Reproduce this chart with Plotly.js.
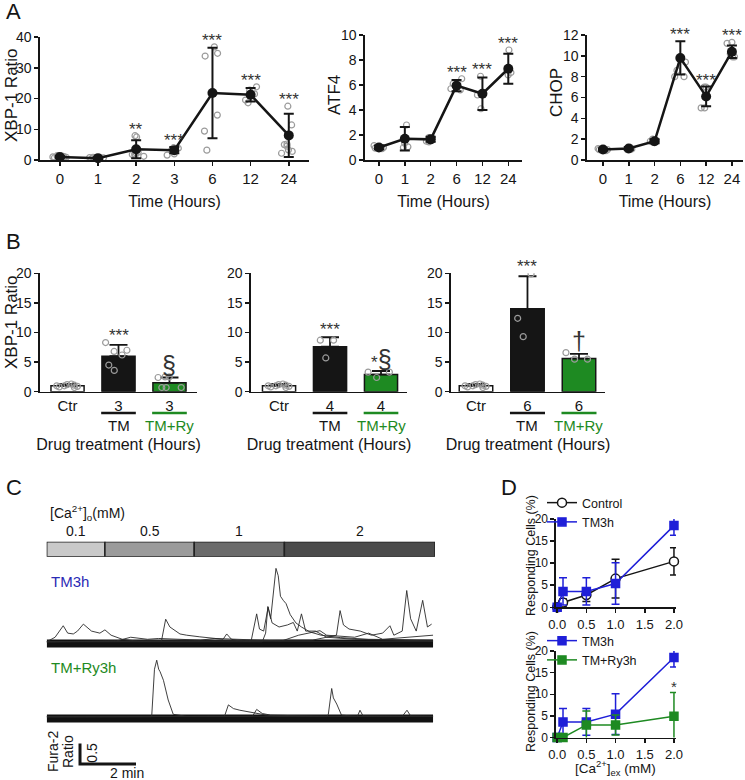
<!DOCTYPE html>
<html><head><meta charset="utf-8">
<script src="https://cdn.plot.ly/plotly-3.0.1.min.js"></script>
<style>html,body{margin:0;padding:0;background:#fff}#chart{width:745px;height:780px}</style>
</head><body><div id="chart"></div>
<script>
// ================= DATA =================
// Panel A – XBP-1 time course
const xbpCats = ['0','1','2','3','6','12','24'];
const xbpMean = [1.0, 0.6, 3.5, 3.2, 21.8, 21.2, 8.0];
const xbpSD   = [0.3, 0.3, 2.9, 1.0, 14.7, 2.2, 7.0];
const xbpPoints = [[1.2,0.9,1.1,1.3,0.8,1.0,1.4,1.1,0.7],[0.7,0.5,0.9,0.4,0.6,0.8],[7.5,7.9,1.5,2.0,1.2,2.5,1.8,2.3],[3.8,4.0,3.3,1.6,2.0],[36.8,34.7,33.8,14.6,9.4,3.2],[23.8,22.7,18.6,19.5,21.5],[17.5,11.4,5.0,4.5,5.2,3.3,2.8,2.2]];
const xbpSig = ['','','**','***','***','***','***'];
// Panel A – ATF4
const atfCats = ['0','1','2','6','12','24'];
const atfMean = [1.0, 1.7, 1.65, 5.95, 5.3, 7.3];
const atfSD   = [0.15, 0.95, 0.2, 0.45, 1.3, 1.2];
const atfPoints = [[1.15,0.9,0.95,1.0],[2.8,1.0,1.05,1.35],[1.75,1.5,1.8,1.45],[6.5,5.7,5.6,6.1],[6.7,5.2,4.1],[8.8,6.8,7.0]];
const atfSig = ['','','','***','***','***'];
// Panel A – CHOP
const chopCats = ['0','1','2','6','12','24'];
const chopMean = [1.0, 1.1, 1.8, 9.8, 6.1, 10.4];
const chopSD   = [0.1, 0.15, 0.2, 1.6, 0.95, 0.6];
const chopPoints = [[1.0,0.9,1.1,1.0],[1.2,1.0,1.15,1.05],[1.9,1.7,2.0,1.8],[9.4,8.6,8.0,8.0],[7.0,7.0,5.0,5.0],[11.2,11.3,9.9,9.9,10.2]];
const chopSig = ['','','','***','***','***'];
// Panel B – XBP-1 ratio after drug treatment
const drugCats = ['Ctr','TM','TM+Ry'];
const drugHours = ['3','4','6'];
const b3Mean = [1.0, 6.0, 1.5], b3SD = [0.3, 1.9, 0.9];
const b3Points = [[1.0,0.8,1.1,1.2,0.9,1.3,0.7,1.0],[8.3,7.0,6.2,4.5,3.6,6.8],[2.5,2.4,2.5,0.7,0.7,0.7]];
const b3Sig = ['','***','§'];
const b4Mean = [1.0, 7.6, 2.9], b4SD = [0.3, 1.6, 0.6];
const b4Points = [[1.0,0.8,1.1,1.2,0.9,1.3,0.7,1.0],[8.7,8.7,5.7],[3.3,3.3,2.4]];
const b4Sig = ['','***','*§'];
const b6Mean = [1.0, 14.0, 5.6], b6SD = [0.3, 5.5, 0.8];
const b6Points = [[1.0,0.8,1.1,1.2,0.9,1.3,0.7,1.0],[19.9,12.4,9.3],[6.6,5.5,5.5]];
const b6Sig = ['','***','†'];
// Panel C – [Ca2+]o protocol and Fura-2 traces (minutes, ratio above baseline)
const caSegLabels = ['0.1','0.5','1','2'];
const caSegMinutes = [2.08, 3.19, 3.22, 5.38];
const bandTimes = [0, 13.8];
const tm3hTimes = [
 [0,7.7,7.82,7.9,8.0,8.1,8.19,8.27,8.35,8.45,8.55,8.7,8.9,9.1,9.4,9.8,10.5,11.5,13.8],
 [0,0.3,0.59,0.75,0.95,1.1,1.31,1.6,1.9,2.08,2.3,2.7,3.3,7.3,7.5,7.6,7.75,7.91,8.05,8.3,8.6,8.81,8.95,9.1,9.25,9.6,10.0,11.0,13.8],
 [0,4.1,4.25,4.4,4.76,5.0,5.47,6.0,6.3,6.43,6.6,7.0,13.8],
 [0,9.5,10.35,10.48,10.6,10.8,11.2,11.6,12.0,12.26,12.4,12.7,12.86,13.0,13.2,13.43,13.6,13.75],
 [0,2.5,3.0,3.6,4.0,5.5,6.0,8.4,9.0,9.76,10.0,11.0,11.5,12.0,13.8]
];
const tm3hRatios = [
 [0.04,0.04,0.25,0.9,0.6,1.25,1.83,1.65,1.15,1.05,0.97,0.7,0.5,0.4,0.28,0.2,0.14,0.1,0.08],
 [0.04,0.15,0.43,0.25,0.23,0.3,0.47,0.3,0.25,0.33,0.2,0.1,0.05,0.05,0.72,0.35,0.3,0.88,0.5,0.4,0.45,0.51,0.3,0.72,0.3,0.3,0.15,0.1,0.06],
 [0.04,0.06,0.59,0.4,0.23,0.2,0.16,0.12,0.1,0.23,0.1,0.05,0.05],
 [0.04,0.08,0.2,0.8,0.45,0.35,0.3,0.2,0.25,0.43,0.2,0.3,1.29,0.6,0.3,1.05,0.4,0.47],
 [0.04,0.06,0.15,0.1,0.12,0.08,0.12,0.06,0.2,0.31,0.2,0.15,0.25,0.1,0.2]
];
const tmRyTimes = [
 [0,3.75,3.85,3.93,4.0,4.05,4.17,4.34,4.52,5.0,13.8],
 [0,6.35,6.49,6.67,6.9,7.3,7.85,8.3,9.0,13.8],
 [0,7.35,7.5,7.7,8.0,10.0,10.06,10.18,10.24,10.36,10.53,11.0,11.1,11.19,11.3,12.7,12.87,13.0,13.8]
];
const tmRyRatios = [
 [0.04,0.04,1.2,1.42,1.2,1.14,0.93,0.45,0.1,0.05,0.05],
 [0.04,0.05,0.33,0.24,0.2,0.15,0.08,0.05,0.05,0.05],
 [0.04,0.05,0.22,0.12,0.08,0.05,0.1,0.73,0.5,0.35,0.08,0.05,0.05,0.2,0.06,0.05,0.2,0.06,0.05]
];
const scaleMinutes = 2, scaleRatio = 0.5;
// Panel D – responding cells (%)
const caConc = [0, 0.1, 0.5, 1.0, 2.0];
const ctrlResp = [0, 1.1, 2.8, 6.5, 10.4],  ctrlSD = [0, 0.8, 1.5, 4.4, 3.1];
const tm3hResp = [0, 3.6, 3.6, 5.4, 18.5],  tm3hSD = [0, 3.1, 3.1, 4.7, 2.2];
const tmRyResp = [0, 0, 2.9, 2.9, 4.9],     tmRySD = [0, 0, 3.2, 2.3, 5.5];
const dSigTop = ['','','','','**'];
const dSigBottom = ['','','','','*'];

// ================= STYLE / LAYOUT HELPERS =================
const W = 745, H = 780;
const px = v => v / W, py = v => 1 - v / H;
const FONT = '"Liberation Sans", Arial, sans-serif';
const INK = '#151515', GREEN = '#1e8a22', BLUE = '#1f1fd8', GREY = '#9b9b9b';
const data = [], annotations = [], shapes = [];
const layout = {width: W, height: H, margin: {l:0,r:0,t:0,b:0}, paper_bgcolor:'#fff', plot_bgcolor:'rgba(0,0,0,0)',
  font:{family:FONT, color:INK}, annotations, shapes, boxmode:'overlay', barmode:'overlay', showlegend:true};
const an = n => n === 1 ? '' : String(n);
function baseAxis(o) {
  return Object.assign({showline:true, linecolor:INK, linewidth:1.6, ticks:'outside', ticklen:4, tickwidth:1.5, tickcolor:INK,
    showgrid:false, zeroline:false, fixedrange:true, tickfont:{family:FONT, size:14, color:INK}}, o);
}
function vTitle(text, x, y, size) {
  annotations.push({xref:'paper', yref:'paper', x:px(x), y:py(y), xanchor:'center', yanchor:'middle', textangle:-90,
    text:text, showarrow:false, font:{family:FONT, size:size, color:INK}});
}
function pointCloud(cats, pts, xa, ya, width, jitter) {
  const fx = [], fy = [];
  pts.forEach((arr, i) => arr.forEach(v => { fx.push(cats[i]); fy.push(v); }));
  data.push({type:'box', x:fx, y:fy, xaxis:xa, yaxis:ya, boxpoints:'all', jitter:jitter, pointpos:0, width:width,
    fillcolor:'rgba(0,0,0,0)', line:{width:0, color:'rgba(0,0,0,0)'},
    marker:{symbol:'circle-open', color:GREY, size:6, line:{width:1.2}}, hoverinfo:'skip', showlegend:false});
}

// ---------- Panel A ----------
function timePanel(n, cats, mean, sd, pts, sig, xDom, yDom, xRange, yMax, dtick) {
  const xa = 'x'+an(n), ya = 'y'+an(n);
  pointCloud(cats, pts, xa, ya, 0.5, 0.9);
  data.push({type:'scatter', mode:'lines+markers', x:cats, y:mean, xaxis:xa, yaxis:ya, cliponaxis:false,
    line:{color:INK, width:2.5}, marker:{color:INK, size:10},
    error_y:{type:'data', array:sd, color:INK, thickness:2, width:5}, showlegend:false, hoverinfo:'skip'});
  sig.forEach((s, i) => { if (!s) return;
    annotations.push({xref:xa, yref:ya, x:i, y:Math.max(mean[i]+sd[i], ...pts[i]), yanchor:'bottom', yshift:-5,
      text:s, showarrow:false, font:{family:FONT, size:17, color:'#333'}}); });
  layout['xaxis'+an(n)] = baseAxis({domain:xDom, anchor:ya, type:'category', categoryorder:'array', categoryarray:cats, range:xRange,
    tickfont:{family:FONT, size:15, color:INK},
    title:{text:'Time (Hours)', font:{family:FONT, size:16, color:INK}, standoff:10}});
  layout['yaxis'+an(n)] = baseAxis({domain:yDom, anchor:xa, range:[0, yMax], dtick:dtick});
}
timePanel(1, xbpCats, xbpMean, xbpSD, xbpPoints, xbpSig, [px(40), px(309)], [py(160), py(37)], [-0.52, 6.53], 40, 10);
timePanel(2, atfCats, atfMean, atfSD, atfPoints, atfSig, [px(365), px(522)], [py(160), py(35)], [-0.54, 5.53], 10, 2);
timePanel(3, chopCats, chopMean, chopSD, chopPoints, chopSig, [px(587), px(743)], [py(160), py(35)], [-0.62, 5.43], 12, 2);
vTitle('XBP-1 Ratio', 11, 95, 17);
vTitle('ATF4', 334, 95, 17);
vTitle('CHOP', 556, 93, 17);

// ---------- Panel B ----------
const barFill = ['#ffffff', INK, GREEN];
function sigHtml(s) { return s.replace(/([§†])/g, '<span style="font-size:25px">$1</span>'); }
function drugPanel(n, hours, mean, sd, pts, sig, xDom, xRange) {
  const xa = 'x'+an(n), ya = 'y'+an(n);
  data.push({type:'bar', x:drugCats, y:mean, xaxis:xa, yaxis:ya, width:0.65,
    marker:{color:barFill, line:{color:INK, width:1.5}},
    error_y:{type:'data', symmetric:false, array:sd, arrayminus:sd.map(() => 0), color:INK, thickness:1.8, width:9},
    showlegend:false, hoverinfo:'skip'});
  pointCloud(drugCats, pts, xa, ya, 0.65, 0.8);
  sig.forEach((s, i) => { if (!s) return;
    annotations.push({xref:xa, yref:ya, x:i, y:Math.max(mean[i]+sd[i], ...pts[i]), yanchor:'bottom', yshift:-4,
      text:sigHtml(s), showarrow:false, font:{family:FONT, size:17, color:'#333'}}); });
  [1, 2].forEach(i => {
    const col = i === 1 ? INK : GREEN;
    shapes.push({type:'line', xref:xa, yref:'paper', x0:i-0.34, x1:i+0.34, y0:py(413), y1:py(413), line:{color:col, width:2.5}});
    annotations.push({xref:xa, yref:'paper', x:i, y:py(426), yanchor:'middle', text:drugCats[i], showarrow:false,
      font:{family:FONT, size:15, color:col}});
  });
  layout['xaxis'+an(n)] = baseAxis({domain:xDom, anchor:ya, type:'category', categoryorder:'array', categoryarray:drugCats, range:xRange,
    tickvals:drugCats, ticktext:['Ctr', hours, hours], ticks:'', tickfont:{family:FONT, size:15, color:INK},
    title:{text:'Drug treatment (Hours)', font:{family:FONT, size:16, color:INK}, standoff:25}});
  layout['yaxis'+an(n)] = baseAxis({domain:[py(391.7), py(273.3)], anchor:xa, range:[0, 20], dtick:5});
}
drugPanel(4, drugHours[0], b3Mean, b3SD, b3Points, b3Sig, [px(40), px(197)], [-0.54, 2.54]);
drugPanel(5, drugHours[1], b4Mean, b4SD, b4Points, b4Sig, [px(251), px(407)], [-0.55, 2.51]);
drugPanel(6, drugHours[2], b6Mean, b6SD, b6Points, b6Sig, [px(451), px(605)], [-0.485, 2.505]);
vTitle('XBP-1 Ratio', 11, 322, 17);

// ---------- Panel C ----------
const C_XDOM = [px(46.7), px(435)];
const C_TOTAL = caSegMinutes.reduce((a, b) => a + b, 0);
const TM_BASE = 3.21, RY_BASE = 1.38, SCALE_T0 = 1.19, SCALE_Y0 = 0.27;
const segStarts = caSegMinutes.map((d, i) => caSegMinutes.slice(0, i).reduce((a, b) => a + b, 0));
data.push({type:'bar', orientation:'h', x:caSegMinutes, base:segStarts, y:caSegMinutes.map(() => 0.5), width:1,
  xaxis:'x8', yaxis:'y8', marker:{color:['#c9c9c9', '#9b9b9b', '#6b6b6b', '#4b4b4b'], line:{color:'#222', width:1.5}},
  showlegend:false, hoverinfo:'skip'});
caSegLabels.forEach((l, i) => annotations.push({xref:'x8', yref:'paper', x:segStarts[i] + caSegMinutes[i]/2, y:py(541),
  yanchor:'bottom', text:l, showarrow:false, font:{family:FONT, size:14, color:INK}}));
annotations.push({xref:'paper', yref:'paper', x:px(48), y:py(513), xanchor:'left', yanchor:'middle', text:'[Ca<sup>2+</sup>]<sub>o</sub>(mM)',
  showarrow:false, font:{family:FONT, size:14, color:INK}});
function traceGroup(times, ratios, base) {
  data.push({type:'scatter', mode:'lines', x:bandTimes, y:bandTimes.map(() => base), xaxis:'x7', yaxis:'y7',
    line:{color:'#111', width:8}, showlegend:false, hoverinfo:'skip'});
  times.forEach((t, k) => data.push({type:'scatter', mode:'lines', x:t, y:ratios[k].map(v => v + base), xaxis:'x7', yaxis:'y7',
    line:{color:'#2a2a2a', width:0.9}, showlegend:false, hoverinfo:'skip'}));
}
traceGroup(tm3hTimes, tm3hRatios, TM_BASE);
traceGroup(tmRyTimes, tmRyRatios, RY_BASE);
data.push({type:'scatter', mode:'lines', x:[SCALE_T0, SCALE_T0, SCALE_T0 + scaleMinutes], y:[SCALE_Y0 + scaleRatio, SCALE_Y0, SCALE_Y0],
  xaxis:'x7', yaxis:'y7', line:{color:INK, width:3}, showlegend:false, hoverinfo:'skip', cliponaxis:false});
annotations.push({xref:'x7', yref:'y7', x:SCALE_T0 + 0.42, y:SCALE_Y0 + scaleRatio/2 + 0.02, text:String(scaleRatio), textangle:-90,
  showarrow:false, font:{family:FONT, size:14, color:INK}});
annotations.push({xref:'paper', yref:'paper', x:px(80 + 28), y:py(773), yanchor:'middle', text:scaleMinutes + ' min',
  showarrow:false, font:{family:FONT, size:14, color:INK}});
vTitle('Fura-2', 53, 752, 14);
vTitle('Ratio', 68, 752, 14);
annotations.push({xref:'paper', yref:'paper', x:px(49), y:py(592), xanchor:'left', text:'TM3h', showarrow:false,
  font:{family:FONT, size:15, color:'#2b2bb5'}});
annotations.push({xref:'paper', yref:'paper', x:px(49), y:py(678), xanchor:'left', text:'TM+Ry3h', showarrow:false,
  font:{family:FONT, size:15, color:GREEN}});
layout.xaxis7 = {domain:C_XDOM, anchor:'y7', range:[0, C_TOTAL], visible:false, fixedrange:true};
layout.yaxis7 = {domain:[py(775), py(560)], anchor:'x7', range:[0, 215/41], visible:false, fixedrange:true};
layout.xaxis8 = {domain:C_XDOM, anchor:'y8', range:[0, C_TOTAL], visible:false, fixedrange:true};
layout.yaxis8 = {domain:[py(556.7), py(541.7)], anchor:'x8', range:[0, 1], visible:false, fixedrange:true};

// ---------- Panel D ----------
function respPanel(n, series, yDom, legendName, sig, sigSeries) {
  const xa = 'x'+an(n), ya = 'y'+an(n);
  series.forEach(s => data.push({type:'scatter', mode:'lines+markers', name:s.name, x:caConc, y:s.y, xaxis:xa, yaxis:ya,
    legend:legendName, cliponaxis:false, line:{color:s.color, width:1.5},
    marker:{symbol:s.symbol, color:s.fill, size:s.size, line:{color:s.color, width:1.5}},
    error_y:{type:'data', array:s.sd, color:s.color, thickness:1.5, width:4}, hoverinfo:'skip'}));
  sig.forEach((t, i) => { if (!t) return;
    annotations.push({xref:xa, yref:ya, x:caConc[i], y:sigSeries.y[i] + sigSeries.sd[i], yanchor:'bottom', yshift:-4, text:t,
      showarrow:false, font:{family:FONT, size:15, color:'#333'}}); });
  layout['xaxis'+an(n)] = baseAxis({domain:[px(556), px(676)], anchor:ya, range:[-0.02, 2.035], tickvals:[0, 0.5, 1, 1.5, 2],
    tickformat:'.1f', tickfont:{family:FONT, size:13, color:INK}});
  layout['yaxis'+an(n)] = baseAxis({domain:yDom, anchor:xa, range:[0, 20], dtick:5, tickfont:{family:FONT, size:12, color:INK}});
}
const ctrlSeries = {name:'Control', y:ctrlResp, sd:ctrlSD, color:INK, fill:'#ffffff', symbol:'circle', size:9};
const tmSeries = {name:'TM3h', y:tm3hResp, sd:tm3hSD, color:BLUE, fill:BLUE, symbol:'square', size:8};
const rySeries = {name:'TM+Ry3h', y:tmRyResp, sd:tmRySD, color:GREEN, fill:GREEN, symbol:'square', size:8};
respPanel(9, [ctrlSeries, tmSeries], [py(607.3), py(519)], 'legend', dSigTop, tmSeries);
respPanel(10, [tmSeries, rySeries], [py(737.5), py(651)], 'legend2', dSigBottom, rySeries);
vTitle('Responding Cells (%)', 531, 556, 12.5);
vTitle('Responding Cells (%)', 531, 692, 12.5);
annotations.push({xref:'paper', yref:'paper', x:px(615), y:py(780), xanchor:'center', yanchor:'bottom',
  text:'[Ca<sup>2+</sup>]<sub>ex</sub> (mM)', showarrow:false, font:{family:FONT, size:13.5, color:INK}});
const legendStyle = {xanchor:'left', yanchor:'top', bgcolor:'rgba(0,0,0,0)', font:{family:FONT, size:12.5, color:INK}, tracegroupgap:0, itemwidth:30};
layout.legend = Object.assign({x:px(542), y:py(488)}, legendStyle);
layout.legend2 = Object.assign({x:px(542), y:py(626)}, legendStyle);

// ---------- panel letters ----------
[['A', 4, 12], ['B', 4, 241], ['C', 4, 487], ['D', 499, 487]].forEach(([t, x, y]) =>
  annotations.push({xref:'paper', yref:'paper', x:px(x), y:py(y), xanchor:'left', yanchor:'middle', text:t, showarrow:false,
    font:{family:FONT, size:22, color:INK}}));

Plotly.newPlot('chart', data, layout, {staticPlot:true, displayModeBar:false});
</script></body></html>
